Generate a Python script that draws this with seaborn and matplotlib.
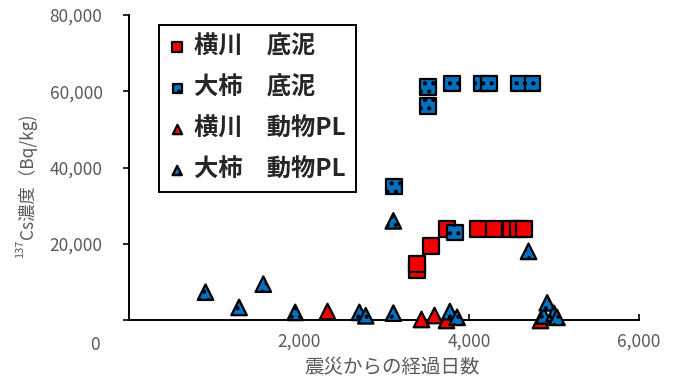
import matplotlib
matplotlib.use("Agg")
import matplotlib.pyplot as plt
import seaborn as sns
import pandas as pd

# Sediment (底泥) and zooplankton (動物PL) 137Cs concentrations, days after the disaster
yokokawa_sed_days = [3385, 3385, 3553, 3745, 4102, 4298, 4494, 4580, 4647]
yokokawa_sed_conc = [13100, 14800, 19400, 24000, 24000, 24000, 24000, 24000, 24000]

ogaki_sed_days = [3120, 3515, 3515, 3800, 3835, 4145, 4235, 4585, 4745]
ogaki_sed_conc = [35000, 56100, 61100, 62000, 22900, 62000, 62000, 62000, 62000]

yokokawa_pl_days = [2325, 3440, 3590, 3725, 4835]
yokokawa_pl_conc = [2300, 350, 1300, 100, 100]

ogaki_pl_days = [900, 1295, 1580, 1955, 2710, 2785, 3110, 3110, 3775, 3860,
                 4700, 4880, 4920, 5000, 5035]
ogaki_pl_conc = [7300, 3300, 9400, 2000, 2000, 1100, 26000, 1800, 2200, 700,
                 18000, 1100, 4500, 1750, 700]

series_labels = ["横川　底泥", "大柿　底泥", "横川　動物PL", "大柿　動物PL"]

x_ticks = [0, 2000, 4000, 6000]
x_tick_labels = ["", "2,000", "4,000", "6,000"]
y_ticks = [0, 20000, 40000, 60000, 80000]
y_tick_labels = ["", "20,000", "40,000", "60,000", "80,000"]

RED = "#F00000"
BLUE = "#0070C0"
GREY = "#595959"

sns.set_style("ticks")
plt.rcParams["font.family"] = ["Noto Sans CJK JP", "DejaVu Sans"]
plt.rcParams["hatch.color"] = "white"
plt.rcParams["hatch.linewidth"] = 1.8

fig = plt.figure(figsize=(6.74, 3.85), dpi=100)
ax = fig.add_axes([0.1914, 0.1688, 0.9481 - 0.1914, 0.961 - 0.1688])

styles = [
    (yokokawa_sed_days, yokokawa_sed_conc, "s", RED, None),
    (ogaki_sed_days, ogaki_sed_conc, "s", BLUE, ".."),
    (yokokawa_pl_days, yokokawa_pl_conc, "^", RED, None),
    (ogaki_pl_days, ogaki_pl_conc, "^", BLUE, ".."),
]

for (days, conc, marker, color, hatch), label in zip(styles, series_labels):
    df = pd.DataFrame({"days": days, "conc": conc})
    kw = dict(hatch=hatch) if hatch else {}
    sns.scatterplot(data=df, x="days", y="conc", ax=ax, marker=marker,
                    s=125, color=color, edgecolor="black", linewidth=1.6,
                    label=label, clip_on=False, zorder=3, **kw)

ax.set_xlim(0, 6000)
ax.set_ylim(0, 80000)
ax.set_xticks(x_ticks)
ax.set_xticklabels(x_tick_labels)
ax.set_yticks(y_ticks)
ax.set_yticklabels(y_tick_labels)

for side in ["top", "right"]:
    ax.spines[side].set_visible(False)
for side in ["left", "bottom"]:
    ax.spines[side].set_color("black")
    ax.spines[side].set_linewidth(1.4)

ax.tick_params(axis="x", direction="in", length=4, width=1.2, color="black",
               labelsize=12.5, labelcolor=GREY, pad=9)
ax.tick_params(axis="y", direction="out", length=4, width=1.2, color="black",
               labelsize=12.5, labelcolor=GREY, pad=15)

# origin label shared by both axes
ax.text(-0.067, -0.082, "0", transform=ax.transAxes, ha="center", va="center",
        fontsize=12.5, color=GREY)

ax.set_xlabel("震災からの経過日数", fontsize=14, color=GREY)
ax.xaxis.set_label_coords(0.516, -0.157)
ax.xaxis.label.set_verticalalignment("center")

# y label: superscript mass number followed by the rest of the label
ax.set_ylabel("")
ax.text(-0.2, 0.265, "Cs濃度（Bq/kg)", transform=ax.transAxes, rotation=90,
        ha="center", va="bottom", fontsize=12.5, color=GREY)
ax.text(-0.214, 0.262, "137", transform=ax.transAxes, rotation=90,
        ha="center", va="top", fontsize=8, color=GREY)

leg = ax.legend(loc="upper left", bbox_to_anchor=(0.0588, 0.967),
                borderaxespad=0, frameon=True, fancybox=False, framealpha=1,
                edgecolor="black", markerscale=0.6, handlelength=0.7,
                handletextpad=0.35, borderpad=0.4, labelspacing=0.7,
                prop={"size": 17.5, "weight": "bold"})
leg.get_frame().set_linewidth(1.4)

fig.savefig("out.png", dpi=100)
